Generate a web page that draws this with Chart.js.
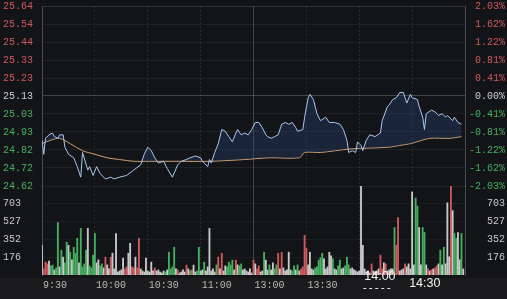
<!DOCTYPE html>
<html>
<head>
<meta charset="utf-8">
<script src="https://cdn.jsdelivr.net/npm/chart.js@4/dist/chart.umd.min.js"></script>
<style>
    html, body { margin: 0; padding: 0; }
    body {
        width: 507px; height: 299px; overflow: hidden; position: relative;
        background: linear-gradient(to bottom, #131417 0, #131417 278px, #1b1b1d 278px);
    }
    #priceWrap { position: absolute; left: 0; top: 0; width: 507px; height: 196px; }
    #volWrap { position: absolute; left: 0; top: 180px; width: 507px; height: 119px; }
</style>
</head>
<body>
<div id="priceWrap"><canvas id="priceChart"></canvas></div>
<div id="volWrap"><canvas id="volumeChart"></canvas></div>
<script>
// Axis labels
const timeLabels = ['9:30', '10:00', '10:30', '11:00', '13:00', '13:30', '14:00', '14:30'];
const timeTicks = [0, 30, 60, 90, 120, 150, 180, 210]; // minutes since open
const sessionMinutes = 240;
const priceTicks = ['25.64', '25.54', '25.44', '25.33', '25.23', '25.13', '25.03', '24.93', '24.82', '24.72', '24.62'];
const pctTicks = ['2.03%', '1.62%', '1.22%', '0.81%', '0.41%', '0.00%', '-0.41%', '-0.81%', '-1.22%', '-1.62%', '-2.03%'];
const volTicks = ['703', '527', '352', '176'];

// Price line (minute, price)
const priceMinutes = [
    0, 1, 2, 4, 6, 7, 9, 10, 12, 13,
    15, 18, 20, 22, 23, 26, 27, 29, 31, 33,
    36, 39, 41, 44, 48, 52, 56, 58, 60, 62,
    64, 66, 69, 71, 74, 77, 79, 82, 84, 87,
    90, 91, 94, 95, 96, 98, 100, 102, 104, 106,
    108, 110, 111, 113, 115, 117, 119, 121, 123, 125,
    127, 128, 130, 132, 134, 136, 138, 140, 142, 144,
    145, 148, 149, 151, 152, 154, 156, 158, 161, 163,
    166, 169, 171, 173, 174, 176, 178, 179, 181, 182,
    184, 186, 189, 192, 193, 196, 197, 199, 201, 203,
    205, 207, 209, 210, 213, 214, 216, 217, 218, 221,
    223, 225, 227, 229, 230, 233, 234, 236, 238
];
const prices = [
    24.88, 24.80, 24.89, 24.91, 24.92, 24.90, 24.89, 24.91, 24.91, 24.84,
    24.80, 24.78, 24.73, 24.67, 24.81, 24.71, 24.73, 24.68, 24.73, 24.69,
    24.66, 24.67, 24.66, 24.67, 24.68, 24.71, 24.74, 24.80, 24.84, 24.82,
    24.78, 24.75, 24.76, 24.72, 24.67, 24.74, 24.76, 24.77, 24.78, 24.79,
    24.78, 24.76, 24.73, 24.77, 24.75, 24.81, 24.86, 24.94, 24.93, 24.90,
    24.87, 24.92, 24.94, 24.91, 24.92, 24.91, 24.94, 24.98, 24.98, 24.95,
    24.91, 24.90, 24.89, 24.90, 24.91, 24.97, 24.98, 24.97, 24.98, 24.95,
    24.93, 24.94, 25.01, 25.12, 25.14, 25.11, 25.03, 24.99, 25.01, 24.98,
    24.98, 24.97, 24.94, 24.88, 24.81, 24.82, 24.81, 24.87, 24.85, 24.82,
    24.88, 24.91, 24.90, 24.92, 24.99, 25.07, 25.08, 25.11, 25.12, 25.15,
    25.15, 25.09, 25.14, 25.12, 25.11, 25.07, 25.01, 24.94, 25.03, 25.05,
    25.04, 25.02, 25.03, 25.01, 25.02, 24.99, 25.01, 24.98, 24.97
];

// Average price line
const avgMinutes = [0, 5, 10, 16, 23, 30, 37, 44, 52, 61, 78, 95, 115, 129, 146, 149, 158, 175, 197, 203, 209, 220, 231, 238];
const avgPrices = [24.86, 24.88, 24.89, 24.86, 24.82, 24.80, 24.78, 24.77, 24.76, 24.76, 24.76, 24.76, 24.77, 24.78, 24.78, 24.81, 24.81, 24.83, 24.84, 24.85, 24.86, 24.89, 24.89, 24.90];

// Volume per minute and direction (1 up, -1 down, 0 flat)
const volumes = [
    293, 60, 127, 110, 137, 90, 98, 50, 70, 518,
    80, 245, 176, 120, 323, 293, 225, 150, 274, 215,
    362, 120, 460, 80, 110, 245, 460, 90, 70, 196,
    410, 120, 150, 90, 110, 70, 176, 100, 60, 176,
    215, 60, 410, 30, 40, 50, 166, 60, 80, 215,
    313, 80, 70, 176, 70, 362, 60, 40, 30, 166,
    40, 30, 127, 40, 70, 40, 50, 30, 20, 40,
    30, 50, 225, 60, 80, 274, 60, 50, 20, 30,
    50, 30, 98, 60, 40, 50, 98, 30, 40, 274,
    40, 50, 127, 40, 80, 460, 40, 60, 30, 100,
    176, 60, 215, 40, 90, 80, 127, 100, 147, 50,
    147, 100, 90, 110, 50, 60, 40, 30, 60, 20,
    147, 110, 60, 90, 30, 40, 225, 147, 50, 100,
    50, 120, 60, 100, 215, 60, 225, 70, 40, 50,
    225, 50, 40, 90, 50, 100, 40, 60, 80, 391,
    264, 100, 225, 60, 50, 70, 80, 147, 170, 215,
    160, 60, 80, 225, 190, 160, 60, 50, 90, 147,
    60, 70, 90, 176, 100, 60, 70, 50, 40, 30,
    40, 880, 293, 60, 30, 40, 20, 110, 40, 30,
    40, 60, 196, 60, 120, 110, 40, 50, 60, 60,
    469, 293, 567, 40, 50, 60, 110, 80, 110, 60,
    820, 100, 760, 680, 469, 100, 469, 420, 100, 60,
    40, 50, 60, 70, 90, 110, 245, 100, 274, 110,
    713, 180, 880, 636, 411, 362, 420, 150, 411, 60
];
const volDir = [
    0, 1, 1, 1, 0, -1, -1, 0, -1, -1,
    0, -1, 0, -1, -1, 0, -1, 0, -1, -1,
    -1, 0, -1, -1, -1, -1, 0, -1, -1, -1,
    -1, 0, 0, -1, -1, 0, 1, 0, 0, 1,
    0, 0, 0, 0, 0, 0, 0, 1, 1, 0,
    0, 1, 1, 0, 1, 1, 0, 0, 0, 0,
    0, 0, 0, 0, 1, 0, 0, 0, 0, 0,
    -1, 0, -1, -1, -1, -1, 0, 1, 0, 0,
    0, 0, 1, 0, -1, 1, 0, 0, -1, -1,
    0, 0, -1, 0, 0, 0, 0, 0, 0, -1,
    1, 0, 1, 0, 0, -1, -1, -1, -1, 0,
    1, 0, -1, -1, 0, 0, 0, 0, 0, 0,
    1, 0, 1, 1, 0, 0, -1, 0, 0, -1,
    0, 0, -1, -1, 1, 0, 1, 0, 0, 0,
    0, 0, -1, -1, 0, -1, 0, 1, 1, 1,
    1, 0, 0, 0, 0, -1, -1, -1, -1, -1,
    0, 0, 0, 0, 0, -1, 0, 0, -1, -1,
    0, 0, -1, -1, -1, 0, 0, 0, 0, 0,
    0, 0, 0, 0, 0, 0, 0, 1, 0, 0,
    0, 0, 1, 1, 0, 1, 0, 0, 0, 0,
    -1, 1, 1, 0, 0, 0, 1, 0, 0, 0,
    0, 0, -1, -1, 0, 0, -1, -1, 0, 1,
    0, 1, 0, 1, 1, 0, -1, 0, -1, 0,
    0, 0, 1, 0, -1, -1, 0, 0, -1, 0
];

// Colours
const RED = '#cf5a5e';
const GREEN = '#46b060';
const FLAT = '#c9c9c9';
const MONO = '"Liberation Mono", "DejaVu Sans Mono", monospace';

document.addEventListener('DOMContentLoaded', () => {
    createPriceChart();
    createVolumeChart();
});

// Shared time axis: vertical grid lines every 30 minutes
function timeAxis() {
    return {
        type: 'linear',
        min: 0,
        max: sessionMinutes,
        offset: false,
        afterBuildTicks: s => { s.ticks = timeTicks.concat([sessionMinutes]).map(v => ({ value: v })); },
        afterFit: s => { s.height = 0; },
        ticks: { display: false },
        grid: {
            offset: false,
            drawTicks: false,
            color: c => (c.tick && c.tick.value === 120) ? 'rgba(255,255,255,0.22)' : 'rgba(255,255,255,0.09)'
        },
        border: {
            display: false,
            dash: c => (c.tick && (c.tick.value === 120 || c.tick.value === 0 || c.tick.value === sessionMinutes)) ? [] : [2, 2]
        }
    };
}

function sideColor(j, n) {
    const mid = (n - 1) / 2;
    if (j > mid) return RED;
    if (j < mid) return GREEN;
    return '#d0d0d0';
}

// Price panel
function createPriceChart() {
    const ctx = document.getElementById('priceChart').getContext('2d');
    const pMin = parseFloat(priceTicks[priceTicks.length - 1]);
    const pMax = parseFloat(priceTicks[0]);
    const n = priceTicks.length;
    const buildTicks = s => {
        s.ticks = priceTicks.map((_, j) => ({ value: pMin + j * (pMax - pMin) / (n - 1) }));
    };

    new Chart(ctx, {
        type: 'line',
        data: {
            datasets: [
                {
                    data: priceMinutes.map((m, i) => ({ x: m, y: prices[i] })),
                    borderColor: '#a9c7ef',
                    borderWidth: 1,
                    pointRadius: 0,
                    tension: 0,
                    fill: { target: 1, above: 'rgba(40,66,112,0.38)', below: 'rgba(0,0,0,0)' }
                },
                {
                    data: avgMinutes.map((m, i) => ({ x: m, y: avgPrices[i] })),
                    borderColor: '#d9a877',
                    borderWidth: 1,
                    pointRadius: 0,
                    tension: 0.3,
                    fill: false
                }
            ]
        },
        options: {
            responsive: true,
            maintainAspectRatio: false,
            animation: false,
            layout: { padding: { left: 3, right: 2, top: 6, bottom: 10 } },
            plugins: { legend: { display: false }, tooltip: { enabled: false } },
            scales: {
                x: timeAxis(),
                y: {
                    position: 'left',
                    min: pMin,
                    max: pMax,
                    afterBuildTicks: buildTicks,
                    afterFit: s => { s.width = 39; },
                    ticks: {
                        autoSkip: false,
                        padding: 0,
                        crossAlign: 'far',
                        font: { family: MONO, size: 10 },
                        color: c => sideColor(c.index, n),
                        callback: (v, j) => priceTicks[n - 1 - j]
                    },
                    grid: {
                        drawTicks: false,
                        color: c => c.index === 5 ? 'rgba(255,255,255,0.2)' : (c.index === n - 1 ? 'rgba(255,255,255,0.13)' : 'rgba(255,255,255,0.06)')
                    },
                    border: { display: true, color: 'rgba(255,255,255,0.16)' }
                },
                yPct: {
                    position: 'right',
                    min: pMin,
                    max: pMax,
                    afterBuildTicks: buildTicks,
                    afterFit: s => { s.width = 40; },
                    ticks: {
                        autoSkip: false,
                        padding: 0,
                        crossAlign: 'far',
                        font: { family: MONO, size: 10 },
                        color: c => sideColor(c.index, n),
                        callback: (v, j) => pctTicks[n - 1 - j]
                    },
                    grid: { display: false },
                    border: { display: true, color: 'rgba(255,255,255,0.16)' }
                }
            }
        }
    });
}

// Time labels under the volume panel
const timeLabelPlugin = {
    id: 'timeLabels',
    afterDraw(chart) {
        const ctx = chart.ctx;
        const xs = chart.scales.x;
        ctx.save();
        ctx.textBaseline = 'middle';
        ctx.textAlign = 'left';
        timeTicks.forEach((t, i) => {
            const x = xs.getPixelForValue(t);
            if (i < 6) {
                ctx.font = '10px ' + MONO;
                ctx.fillStyle = '#b9b9b9';
                ctx.fillText(timeLabels[i], x + 1, 105);
            } else if (i === 6) {
                ctx.font = '12.5px "Liberation Sans", Arial, sans-serif';
                ctx.fillStyle = '#f2f2f2';
                ctx.fillText(timeLabels[i], x + 5, 97);
                ctx.strokeStyle = '#dddddd';
                ctx.lineWidth = 1;
                ctx.setLineDash([3, 3]);
                ctx.beginPath();
                ctx.moveTo(x + 4, 108.5);
                ctx.lineTo(x + 32, 108.5);
                ctx.stroke();
                ctx.setLineDash([]);
            } else {
                ctx.font = '12.5px "Liberation Sans", Arial, sans-serif';
                ctx.fillStyle = '#f2f2f2';
                ctx.fillText(timeLabels[i], x - 3, 104);
            }
        });
        ctx.restore();
    }
};

// Volume panel
function createVolumeChart() {
    const ctx = document.getElementById('volumeChart').getContext('2d');
    const n = volTicks.length;
    const step = parseFloat(volTicks[0]) / n;
    const buildTicks = s => { s.ticks = volTicks.map((_, j) => ({ value: step * (j + 1) })); };

    new Chart(ctx, {
        type: 'bar',
        data: {
            datasets: [{
                data: volumes.map((v, i) => ({ x: i, y: v })),
                backgroundColor: volDir.map(d => d > 0 ? RED : (d < 0 ? GREEN : FLAT)),
                barThickness: 1.2,
                borderWidth: 0
            }]
        },
        plugins: [timeLabelPlugin],
        options: {
            responsive: true,
            maintainAspectRatio: false,
            animation: false,
            layout: { padding: { left: 3, right: 2, top: 5, bottom: 24 } },
            plugins: { legend: { display: false }, tooltip: { enabled: false } },
            scales: {
                x: timeAxis(),
                y: {
                    position: 'left',
                    min: 0,
                    max: step * (n + 1),
                    afterBuildTicks: buildTicks,
                    afterFit: s => { s.width = 39; },
                    ticks: {
                        autoSkip: false,
                        padding: 0,
                        crossAlign: 'far',
                        font: { family: MONO, size: 10 },
                        color: '#c8c8c8',
                        callback: (v, j) => volTicks[n - 1 - j]
                    },
                    grid: { drawTicks: false, color: 'rgba(255,255,255,0.04)' },
                    border: { display: true, color: 'rgba(255,255,255,0.16)' }
                },
                yRight: {
                    position: 'right',
                    min: 0,
                    max: step * (n + 1),
                    afterBuildTicks: buildTicks,
                    afterFit: s => { s.width = 40; },
                    ticks: {
                        autoSkip: false,
                        padding: 0,
                        crossAlign: 'far',
                        font: { family: MONO, size: 10 },
                        color: '#c8c8c8',
                        callback: (v, j) => volTicks[n - 1 - j]
                    },
                    grid: { display: false },
                    border: { display: true, color: 'rgba(255,255,255,0.16)' }
                }
            }
        }
    });
}
</script>
</body>
</html>
